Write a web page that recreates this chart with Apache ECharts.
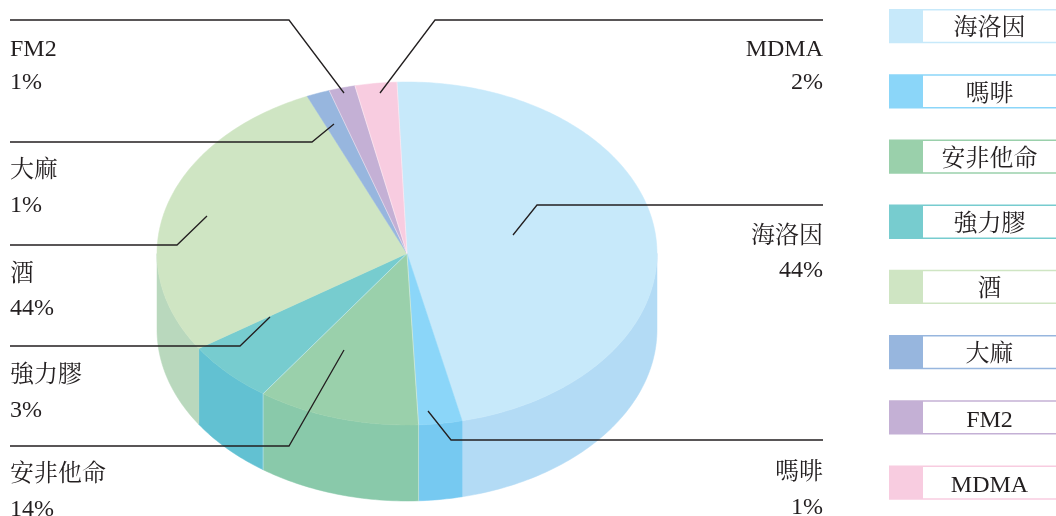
<!DOCTYPE html>
<html><head><meta charset="utf-8">
<style>html,body{margin:0;padding:0;background:#fff}#c{width:1056px;height:516px}</style>
<script src="https://cdn.jsdelivr.net/npm/echarts@6/dist/echarts.min.js"></script>
</head><body><div id="c"></div>
<script>
// Data
const categories = ['海洛因','嗎啡','安非他命','強力膠','酒','大麻','FM2','MDMA'];
const sliceShares = [47.1,2.8,10.5,5.9,27.8,1.5,1.7,2.7];      // drawn slice sizes
const printedLabels = ['44%','1%','14%','3%','44%','1%','1%','2%']; // percentages as printed
const topColors  = ['#c7e9fa','#8bd6f9','#9ad0ab','#77cccf','#cfe5c3','#97b6de','#c4b0d5','#f8cce0'];
const sideColors = ['#b3dbf5','#76c9f1','#89c9aa','#62c1d2','#b9d8bd','#8aa8d2','#b5a2c8','#ecbdd2'];
const lightSeams = ['海洛因','安非他命','強力膠','FM2','MDMA']; // slices whose leading edge shows a pale seam

// Layout
const PIE = {cx:407, cy:253.5, rx:250, ry:171.5, depth:76, start:-2.3};
const INK = '#231f20';
const FONT = '"Liberation Serif","Noto Serif CJK TC","Noto Sans CJK TC",serif';
const callouts = [
  {i:0, align:'right', tx:823, y1:237, y2:271, path:[[823,205],[537,205],[513,235]]},
  {i:1, align:'right', tx:823, y1:473, y2:508, path:[[823,440],[451,440],[428,411]]},
  {i:2, align:'left',  tx:10,  y1:475, y2:510, path:[[10,446],[289,446],[344,350]]},
  {i:3, align:'left',  tx:10,  y1:376, y2:411, path:[[10,346],[240,346],[270,317]]},
  {i:4, align:'left',  tx:10,  y1:275, y2:309, path:[[10,245],[177,245],[207,216]]},
  {i:5, align:'left',  tx:10,  y1:171, y2:206, path:[[10,142],[312,142],[334,124]]},
  {i:6, align:'left',  tx:10,  y1:50,  y2:83,  path:[[10,20],[289,20],[344,93]]},
  {i:7, align:'right', tx:823, y1:50,  y2:83,  path:[[823,20],[435,20],[380,93]]}
];
const LEG = {x:889, split:923, right:1056, top:9, h:34.3, pitch:65.2, tx:989.5, textDy:3, rule:1.5};

const total = sliceShares.reduce((a,b)=>a+b,0);
const toDeg = v => v/total*360;
function startAngle(i){let s=PIE.start;for(let k=0;k<i;k++)s+=toDeg(sliceShares[k]);return s;}
function pt(t,dy){const r=t*Math.PI/180;return [PIE.cx+PIE.rx*Math.sin(r),PIE.cy-PIE.ry*Math.cos(r)+dy];}
function arc(a,b,dy){const out=[];const n=Math.max(2,Math.ceil(Math.abs(b-a)));for(let j=0;j<=n;j++)out.push(pt(a+(b-a)*j/n,dy));return out;}

function renderSlice(params,api){
  const i=params.dataIndex, a=startAngle(i), b=a+toDeg(api.value(0));
  const children=[];
  const sa=Math.max(a,90), sb=Math.min(b,270);
  if(sb>sa){
    const pts=arc(sa,sb,0).concat(arc(sb,sa,PIE.depth));
    children.push({type:'polygon',z2:1,shape:{points:pts},
      style:{fill:sideColors[i],stroke:sideColors[i],lineWidth:0.5}});
  }
  const top=[[PIE.cx,PIE.cy]].concat(arc(a,b,0));
  children.push({type:'polygon',z2:2,shape:{points:top},
    style:{fill:topColors[i],stroke:topColors[i],lineWidth:0.5}});
  if(lightSeams.indexOf(categories[i])>=0){
    const e=pt(a,0);
    children.push({type:'polyline',z2:3,shape:{points:[[PIE.cx,PIE.cy],e]},
      style:{stroke:'rgba(255,255,255,0.6)',lineWidth:0.7,fill:null}});
    if(a>90&&a<270){
      children.push({type:'polyline',z2:3,shape:{points:[e,pt(a,PIE.depth)]},
        style:{stroke:'rgba(255,255,255,0.55)',lineWidth:0.7,fill:null}});
    }
  }
  return {type:'group',children};
}

const graphics=[];
callouts.forEach(c=>{
  graphics.push({type:'polyline',z:20,shape:{points:c.path},style:{stroke:INK,lineWidth:1.3,fill:null}});
  [[categories[c.i],c.y1],[printedLabels[c.i],c.y2]].forEach(([t,y])=>{
    graphics.push({type:'text',z:21,x:c.tx,y:y,style:{text:t,font:'24px '+FONT,fill:INK,align:c.align,verticalAlign:'middle'}});
  });
});
categories.forEach((name,i)=>{
  const y=LEG.top+LEG.pitch*i;
  graphics.push({type:'rect',z:10,shape:{x:LEG.x,y:y,width:LEG.right-LEG.x,height:LEG.h},style:{fill:topColors[i]}});
  graphics.push({type:'rect',z:11,shape:{x:LEG.split,y:y+LEG.rule,width:LEG.right-LEG.split,height:LEG.h-2*LEG.rule},style:{fill:'#fff'}});
  graphics.push({type:'text',z:12,x:LEG.tx,y:y+LEG.h/2+LEG.textDy,style:{text:name,font:'24px '+FONT,fill:INK,align:'center',verticalAlign:'middle'}});
});

const chart=echarts.init(document.getElementById('c'),null,{renderer:'canvas'});
chart.setOption({
  animation:false,
  backgroundColor:'#fff',
  graphic:graphics,
  series:[{type:'custom',name:'pie',coordinateSystem:'none',renderItem:renderSlice,silent:true,
    data:sliceShares.map((v,i)=>({name:categories[i],value:[v]}))}]
});
</script></body></html>
